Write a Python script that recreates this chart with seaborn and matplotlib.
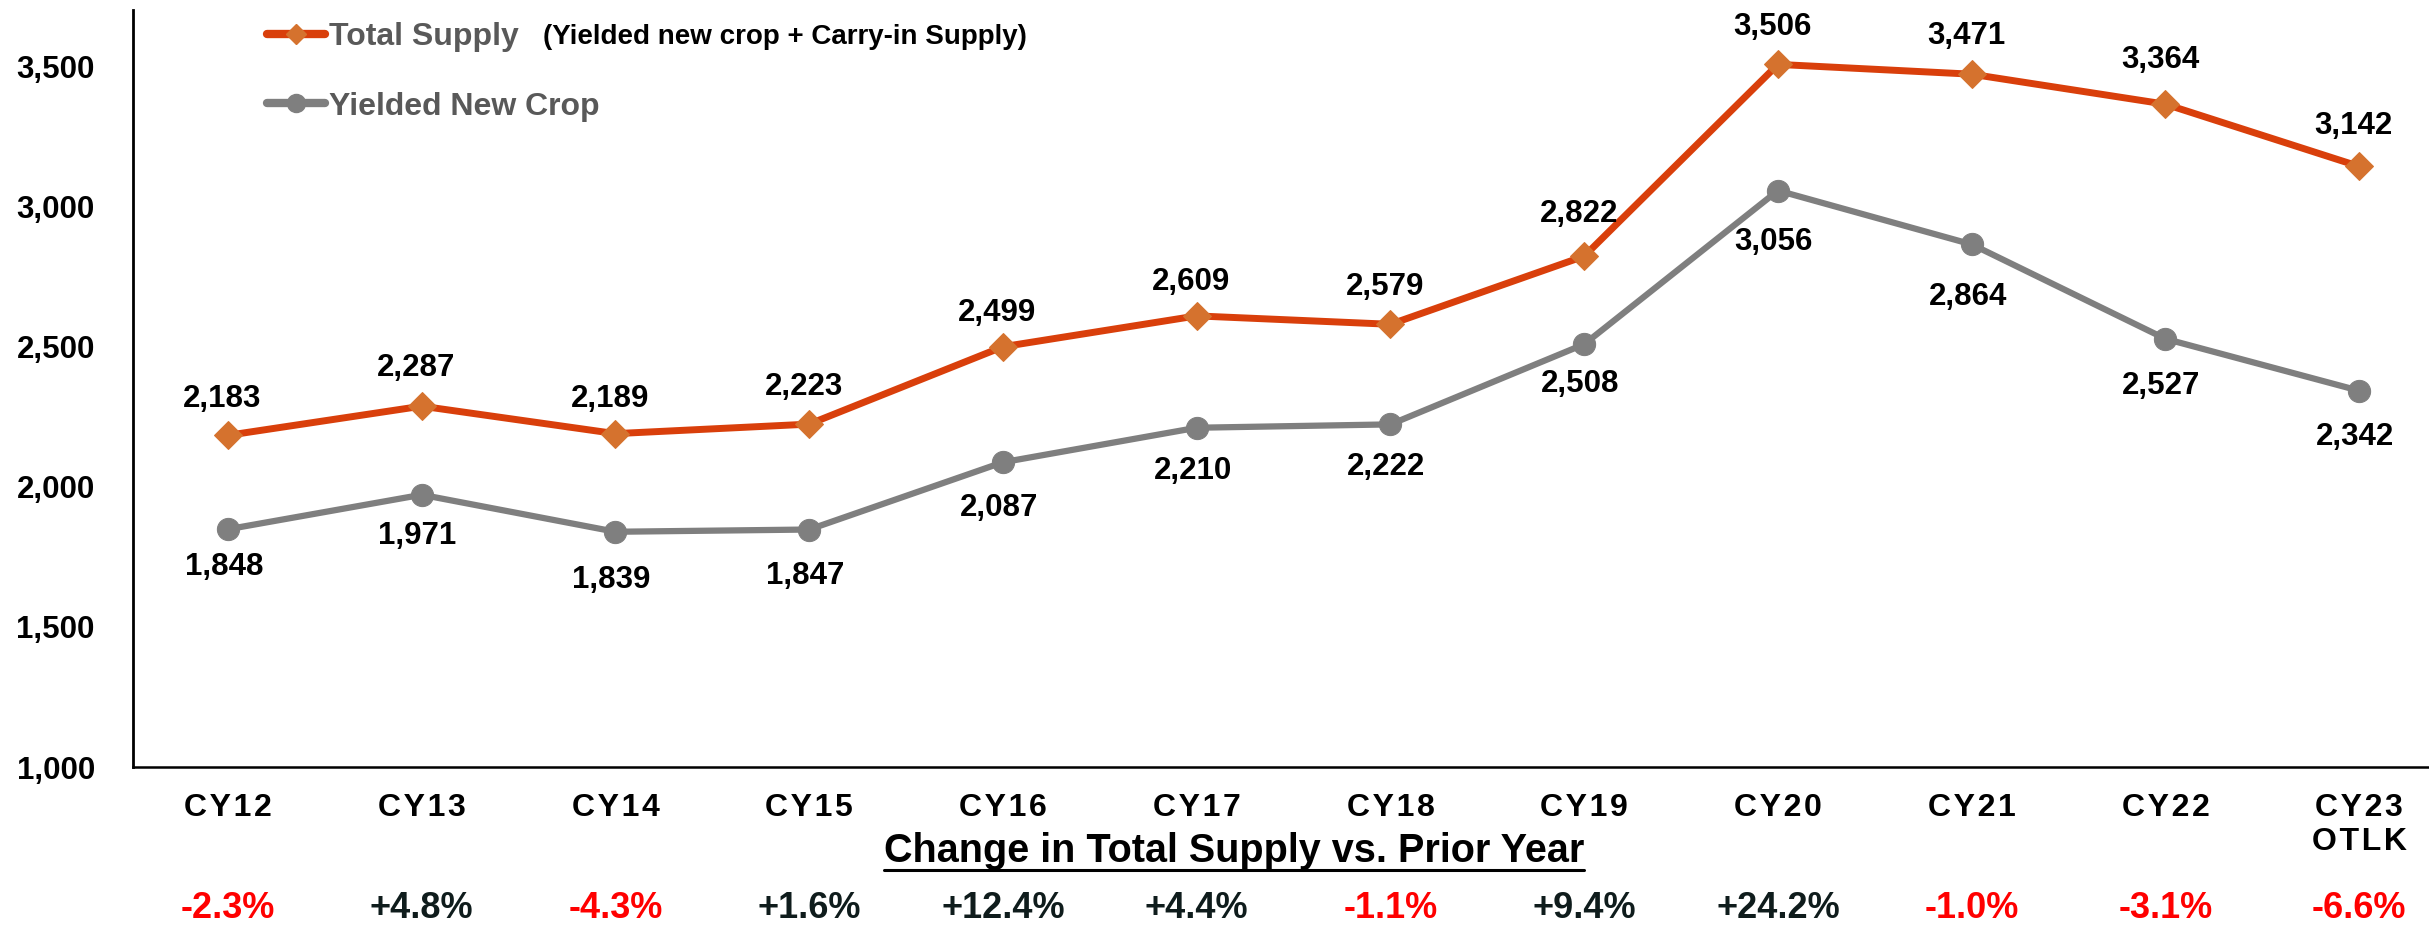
import numpy as np
import pandas as pd
import matplotlib
matplotlib.use("Agg")
import matplotlib.pyplot as plt
import matplotlib.transforms as mtransforms
from matplotlib.lines import Line2D
import seaborn as sns

categories = ["CY12", "CY13", "CY14", "CY15", "CY16", "CY17", "CY18", "CY19",
              "CY20", "CY21", "CY22", "CY23\nOTLK"]
total_supply = [2183, 2287, 2189, 2223, 2499, 2609, 2579, 2822, 3506, 3471, 3364, 3142]
yielded_new_crop = [1848, 1971, 1839, 1847, 2087, 2210, 2222, 2508, 3056, 2864, 2527, 2342]
pct_change = ["-2.3%", "+4.8%", "-4.3%", "+1.6%", "+12.4%", "+4.4%", "-1.1%", "+9.4%",
              "+24.2%", "-1.0%", "-3.1%", "-6.6%"]

# label placement (layout only, in pixels from the marker)
total_label_dy = [36, 38, 35, 37, 34, 34, 37, 42, 37, 38, 44, 40]
crop_label_dy = [38, 41, 48, 46, 46, 43, 43, 40, 51, 53, 47, 46]

sns.set_style("white")
FONT = ["Liberation Sans", "DejaVu Sans"]
plt.rcParams["font.family"] = FONT

ORANGE = "#D93F0B"
ORANGE_MK = "#D5722E"
GRAY = "#7F7F7F"

df = pd.DataFrame({"x": np.arange(len(categories)),
                   "total": total_supply, "crop": yielded_new_crop})

DPI = 100
PX = 72 / DPI
fig = plt.figure(figsize=(24.29, 9.25), dpi=DPI)
ax = fig.add_axes([133 / 2429, 1 - 767 / 925, 1 - 133 / 2429, (767 - 10) / 925])

sns.lineplot(data=df, x="x", y="crop", ax=ax, color=GRAY, lw=4.5, marker="o",
             markersize=16, markerfacecolor=GRAY, markeredgecolor=GRAY)
sns.lineplot(data=df, x="x", y="total", ax=ax, color=ORANGE, lw=5, marker="D",
             markersize=14, markerfacecolor=ORANGE_MK, markeredgecolor=ORANGE_MK)

ax.set_xlim(-0.49, 11.36)
ax.set_ylim(1000, 3700)
ax.set_xlabel("")
ax.set_ylabel("")

for i, (t, c) in enumerate(zip(total_supply, yielded_new_crop)):
    ax.annotate(f"{t:,}", (i, t), xytext=(-4, total_label_dy[i] * PX),
                textcoords="offset points", ha="center", va="center",
                fontsize=22.5, fontweight="bold", color="black")
    ax.annotate(f"{c:,}", (i, c), xytext=(-3, -crop_label_dy[i] * PX),
                textcoords="offset points", ha="center", va="center",
                fontsize=22.5, fontweight="bold", color="black")

# axes styling
for s in ["top", "right"]:
    ax.spines[s].set_visible(False)
ax.spines["left"].set_linewidth(2)
ax.spines["bottom"].set_linewidth(1.8)
ax.spines["left"].set_color("black")
ax.spines["bottom"].set_color("black")

major = [1000, 1500, 2000, 2500, 3000, 3500]
ax.set_yticks(major)
ax.set_yticks(np.arange(1000, 3701, 100), minor=True)
ax.set_yticklabels([f"{v:,}" for v in major], fontsize=22.5, fontweight="bold")
ax.tick_params(axis="y", which="major", direction="inout", length=11, width=1.8,
               pad=22, colors="black")
ax.tick_params(axis="y", which="minor", direction="in", length=5, width=1.5,
               colors="black")

sp = "\u200a"
ax.set_xticks(np.arange(len(categories)))
ax.set_xticklabels(["\n".join(sp.join(list(w)) for w in c.split("\n")) for c in categories],
                   fontsize=23, fontweight="bold", linespacing=1.15)
ax.tick_params(axis="x", which="both", length=0, pad=19, colors="black")
ax.grid(False)

# percent change row
trans = mtransforms.blended_transform_factory(ax.transData, fig.transFigure)
for i, p in enumerate(pct_change):
    ax.text(i, 1 - 908 / 925, p, transform=trans, ha="center", va="center",
            fontsize=26, fontweight="bold",
            color="#FF0000" if p.startswith("-") else "#0F1C1C")

header = fig.text(1234 / 2429, 1 - 851 / 925, "Change in Total Supply vs. Prior Year",
                  ha="center", va="center", fontsize=28.5, fontweight="bold",
                  color="black")

# legend
handles = [
    Line2D([], [], color=ORANGE, lw=6, marker="D", markersize=10.5,
           markerfacecolor=ORANGE_MK, markeredgecolor=ORANGE_MK),
    Line2D([], [], color=GRAY, lw=6, marker="o", markersize=13,
           markerfacecolor=GRAY, markeredgecolor=GRAY),
]
leg = ax.legend(handles, ["Total Supply", "Yielded New Crop"], loc="upper left",
                bbox_to_anchor=(267 / 2429, 1 - 22 / 925), bbox_transform=fig.transFigure,
                frameon=False, borderpad=0, borderaxespad=0, handlelength=1.8,
                handletextpad=0.15, labelspacing=1.24, labelcolor="#595959",
                prop={"family": FONT, "weight": "bold", "size": 23})
fig.text(543 / 2429, 1 - 37 / 925, "(Yielded new crop + Carry-in Supply)",
         ha="left", va="center", fontsize=20, fontweight="bold", color="black")

# underline header
fig.canvas.draw()
bb = header.get_window_extent()
W = fig.bbox.width
uy = 1 - 870 / 925
fig.add_artist(Line2D([bb.x0 / W, bb.x1 / W], [uy, uy],
                      transform=fig.transFigure, color="black", lw=2.2))

fig.savefig("out.png", dpi=DPI)
